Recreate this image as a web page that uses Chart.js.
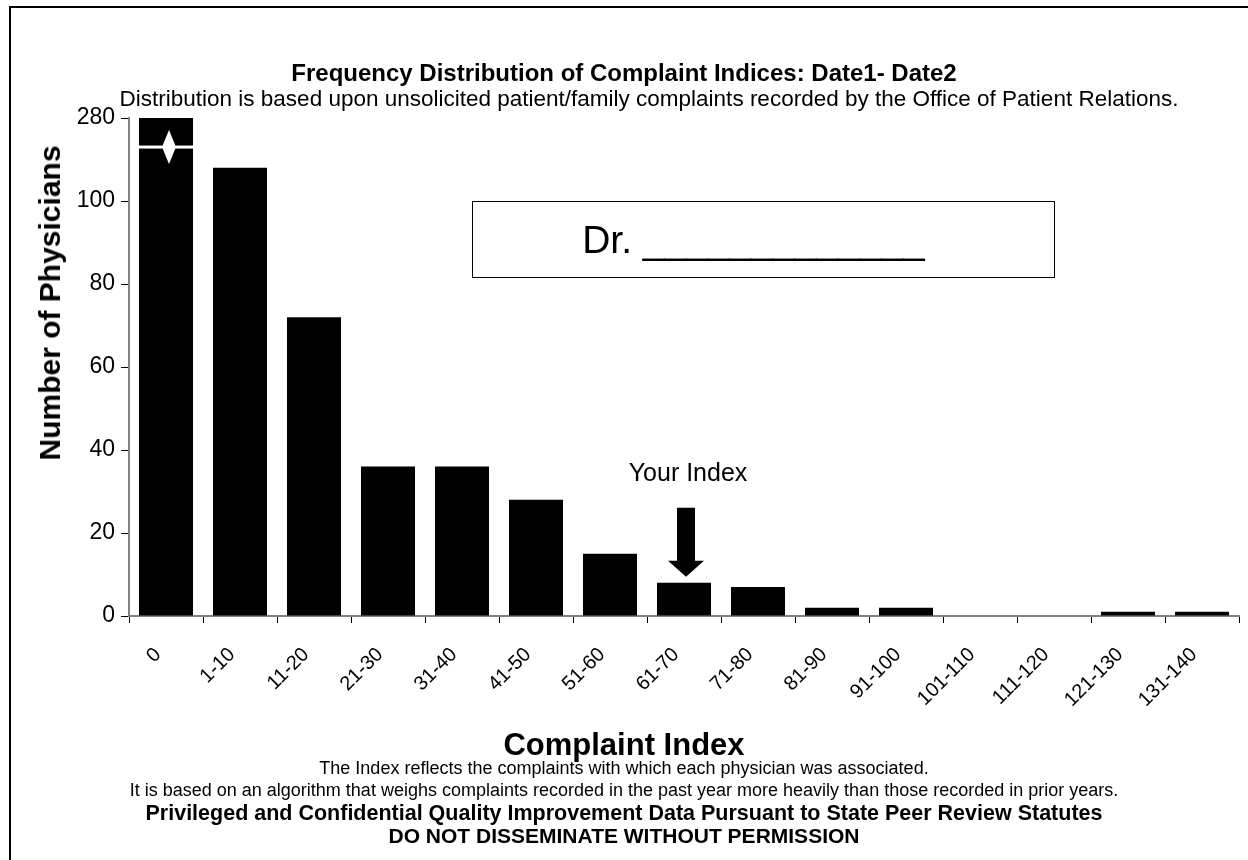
<!DOCTYPE html>
<html>
<head>
<meta charset="utf-8">
<script src="https://cdn.jsdelivr.net/npm/chart.js@4.4.0/dist/chart.umd.min.js"></script>
<style>
    html, body { margin: 0; padding: 0; background: #fff; overflow: hidden; }
    body { width: 1248px; height: 860px; position: relative; font-family: "Liberation Sans", Arial, sans-serif; color: #000; }
    #frame { position: absolute; left: 9px; top: 6px; width: 1300px; height: 900px; border: 2px solid #000; }
    #chart { position: absolute; left: 0; top: 0; }
    .txt { position: absolute; left: 0; width: 1248px; text-align: center; white-space: nowrap; line-height: 30px; }
    #title { top: 58px; font-size: 24px; font-weight: bold; }
    #subtitle { top: 84px; left: 25px; font-size: 22.5px; }
    #xtitle { top: 730px; font-size: 31px; font-weight: bold; }
    #note1 { top: 753px; font-size: 18px; }
    #note2 { top: 775px; font-size: 18px; }
    #conf1 { top: 798px; font-size: 21.5px; font-weight: bold; }
    #conf2 { top: 821px; font-size: 21px; font-weight: bold; }
    #ytitle { position: absolute; left: 50px; top: 303px; white-space: nowrap; font-size: 30px; font-weight: bold;
              transform: translate(-50%, -50%) rotate(-90deg); }
    #drbox { position: absolute; left: 472px; top: 201px; width: 561px; height: 75px; padding-right: 20px;
             border: 1.5px solid #000; font-size: 39px; line-height: 75px; text-align: center; }
</style>
</head>
<body>
<div id="frame"></div>
<canvas id="chart" width="1248" height="860"></canvas>
<div class="txt" id="title">Frequency Distribution of Complaint Indices: Date1- Date2</div>
<div class="txt" id="subtitle">Distribution is based upon unsolicited patient/family complaints recorded by the Office of Patient Relations.</div>
<div id="drbox">Dr. _____________</div>
<div id="ytitle">Number of Physicians</div>
<div class="txt" id="xtitle">Complaint Index</div>
<div class="txt" id="note1">The Index reflects the complaints with which each physician was associated.</div>
<div class="txt" id="note2">It is based on an algorithm that weighs complaints recorded in the past year more heavily than those recorded in prior years.</div>
<div class="txt" id="conf1">Privileged and Confidential Quality Improvement Data Pursuant to State Peer Review Statutes</div>
<div class="txt" id="conf2">DO NOT DISSEMINATE WITHOUT PERMISSION</div>
<script>
const FONT = '"Liberation Sans", Arial, sans-serif';

const categories = ['0', '1-10', '11-20', '21-30', '31-40', '41-50', '51-60', '61-70', '71-80',
                    '81-90', '91-100', '101-110', '111-120', '121-130', '131-140'];
const counts = [280, 108, 72, 36, 36, 28, 15, 8, 7, 2, 2, 0, 0, 1, 1];
const yTickLabels = ['0', '20', '40', '60', '80', '100', '280'];
const yourIndex = '61-70';

// broken axis: 0-110 linear, 110-280 squeezed into 110-120
const BREAK_AT = 110;
const AXIS_TOP = 280;
const BREAK_MARK = 113;
const toAxis = v => v <= BREAK_AT ? v : BREAK_AT + (v - BREAK_AT) * 10 / (AXIS_TOP - BREAK_AT);

const marks = {
    id: 'marks',
    afterDatasetsDraw(chart) {
        const { ctx, scales: { x, y } } = chart;
        const meta = chart.getDatasetMeta(0);
        ctx.save();

        // axis break on bars taller than the break
        counts.forEach((v, i) => {
            if (v <= BREAK_AT) return;
            const bar = meta.data[i];
            const yb = y.getPixelForValue(BREAK_MARK);
            const cx = bar.x + 3;
            ctx.fillStyle = '#fff';
            ctx.fillRect(bar.x - bar.width / 2, yb - 1.5, bar.width, 3);
            ctx.beginPath();
            ctx.moveTo(cx, yb - 17);
            ctx.lineTo(cx + 7, yb);
            ctx.lineTo(cx, yb + 17);
            ctx.lineTo(cx - 7, yb);
            ctx.closePath();
            ctx.fill();
        });

        // "Your Index" arrow
        const i = categories.indexOf(yourIndex);
        const cx = x.getPixelForValue(i) + 2;
        const tip = meta.data[i].y - 6;
        ctx.fillStyle = '#000';
        ctx.beginPath();
        ctx.moveTo(cx, tip);
        ctx.lineTo(cx + 18, tip - 16);
        ctx.lineTo(cx + 9, tip - 16);
        ctx.lineTo(cx + 9, tip - 69);
        ctx.lineTo(cx - 9, tip - 69);
        ctx.lineTo(cx - 9, tip - 16);
        ctx.lineTo(cx - 18, tip - 16);
        ctx.closePath();
        ctx.fill();

        ctx.font = '25px ' + FONT;
        ctx.textAlign = 'center';
        ctx.textBaseline = 'middle';
        ctx.fillText('Your Index', cx + 2, tip - 103);
        ctx.restore();
    }
};

new Chart(document.getElementById('chart'), {
    type: 'bar',
    data: {
        labels: categories,
        datasets: [{
            data: counts.map(toAxis),
            backgroundColor: '#000',
            barPercentage: 0.73,
            categoryPercentage: 1
        }]
    },
    options: {
        responsive: false,
        animation: false,
        devicePixelRatio: 1,
        layout: { padding: { left: 38, top: 118, right: 9, bottom: 100 } },
        plugins: { legend: { display: false }, tooltip: { enabled: false } },
        scales: {
            x: {
                grid: { drawOnChartArea: false, tickLength: 7, color: '#000', offset: true },
                border: { color: '#808080', width: 2 },
                ticks: { color: '#000', font: { family: FONT, size: 20 }, minRotation: 45, maxRotation: 45, autoSkip: false,
                         padding: 20, labelOffset: -8 },
                afterFit(s) { s.height = 144; }
            },
            y: {
                min: 0,
                max: 120,
                grid: { drawOnChartArea: false, tickLength: 8, color: '#000' },
                border: { color: '#808080', width: 2 },
                ticks: { stepSize: 20, color: '#000', font: { family: FONT, size: 23 }, padding: 6, callback: (v, i) => yTickLabels[i] },
                afterFit(s) { s.width = 91; }
            }
        }
    },
    plugins: [marks]
});
</script>
</body>
</html>
